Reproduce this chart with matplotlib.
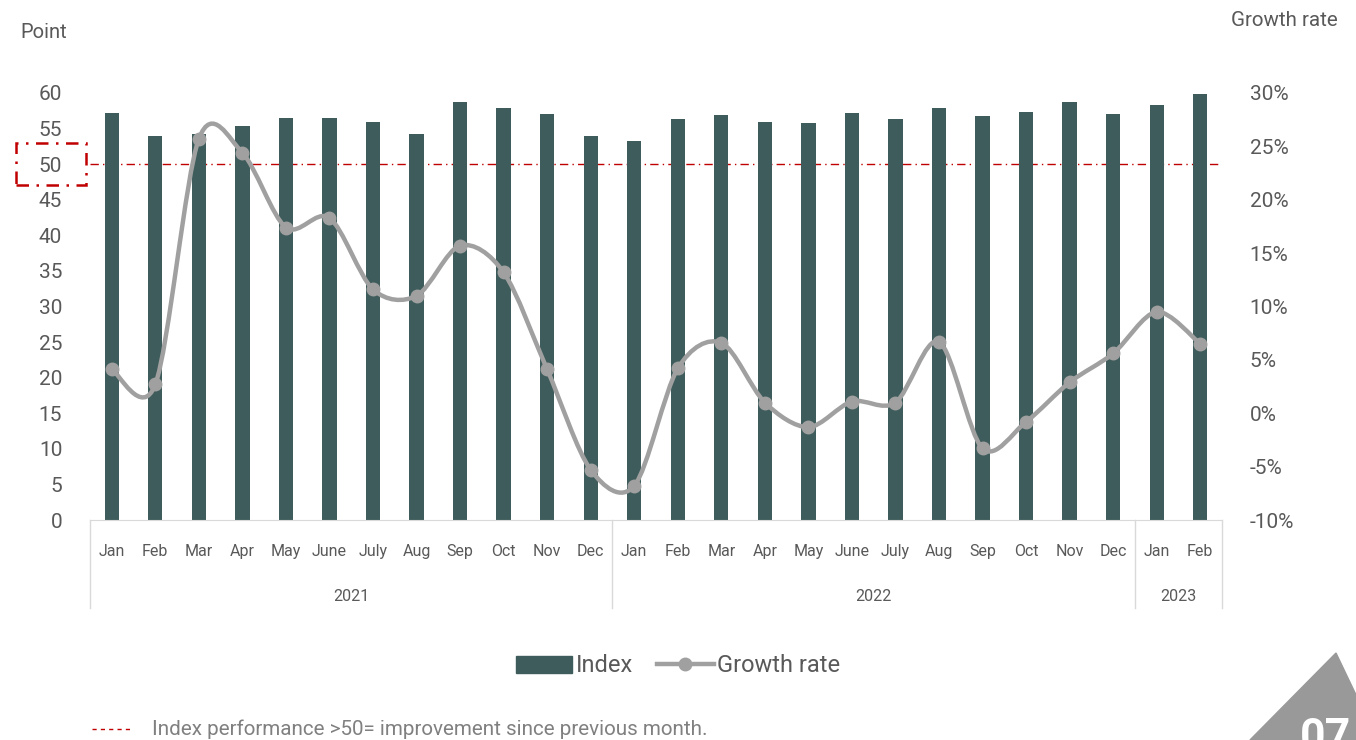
import numpy as np
import matplotlib.pyplot as plt
from matplotlib.path import Path
from matplotlib.patches import PathPatch, Patch, Polygon, Rectangle
from matplotlib.lines import Line2D

plt.rcParams['font.family'] = ['Roboto', 'DejaVu Sans']

months = ['Jan', 'Feb', 'Mar', 'Apr', 'May', 'June', 'July', 'Aug', 'Sep', 'Oct', 'Nov', 'Dec',
          'Jan', 'Feb', 'Mar', 'Apr', 'May', 'June', 'July', 'Aug', 'Sep', 'Oct', 'Nov', 'Dec',
          'Jan', 'Feb']
years = ['2021', '2022', '2023']
year_counts = [12, 12, 2]

index_vals = [57.2, 54.0, 54.2, 55.4, 56.5, 56.5, 55.9, 54.2, 58.7, 57.9, 57.0, 54.0,
              53.3, 56.3, 56.9, 55.9, 55.8, 57.2, 56.3, 57.9, 56.8, 57.3, 58.7, 57.0,
              58.3, 59.9]
growth_vals = [4.1, 2.7, 25.7, 24.4, 17.4, 18.3, 11.6, 11.0, 15.7, 13.2, 4.1, -5.3,
               -6.8, 4.2, 6.6, 1.0, -1.3, 1.1, 1.0, 6.7, -3.3, -0.8, 2.9, 5.6,
               9.5, 6.5]

bar_color = '#3e5c5b'
line_color = '#a0a0a0'
text_color = '#595959'
red = '#c00000'

fig = plt.figure(figsize=(13.56, 7.4), dpi=100)
ax = fig.add_axes([90 / 1356, 1 - 520 / 740, 1132 / 1356, 427 / 740])
ax2 = ax.twinx()

x = np.arange(len(months))
ax.bar(x, index_vals, width=0.33, color=bar_color, zorder=2)
ax.set_xlim(-0.5, len(months) - 0.5)
ax.set_ylim(0, 60)
ax.set_yticks(range(0, 61, 5))
ax.axhline(50, color=red, lw=1, ls=(0, (6, 3, 1, 3)), zorder=1)

ax2.set_ylim(-10, 30)
ax2.set_yticks(range(-10, 31, 5))
ax2.set_yticklabels([f'{v}%' for v in range(-10, 31, 5)])

# smooth line (Catmull-Rom as bezier, in pixel-like space)
sx, sy = 43.54, 10.675
pts = np.column_stack([x * sx, np.array(growth_vals) * sy])
verts = [pts[0]]
codes = [Path.MOVETO]
n = len(pts)
for i in range(n - 1):
    p0 = pts[max(i - 1, 0)]
    p1 = pts[i]
    p2 = pts[i + 1]
    p3 = pts[min(i + 2, n - 1)]
    c1 = p1 + (p2 - p0) / 6.5
    c2 = p2 - (p3 - p1) / 6.5
    verts += [c1, c2, p2]
    codes += [Path.CURVE4] * 3
verts = np.array(verts)
verts[:, 0] /= sx
verts[:, 1] /= sy
ax2.add_patch(PathPatch(Path(verts, codes), fill=False, edgecolor=line_color, lw=3.2,
                        capstyle='round', joinstyle='round', zorder=3))
ax2.plot(x, growth_vals, 'o', color=line_color, ms=9, zorder=4)

for a in (ax, ax2):
    for s in a.spines.values():
        s.set_visible(False)
    a.tick_params(axis='y', length=0, labelsize=15, colors=text_color, pad=20)
ax.spines['bottom'].set_visible(True)
ax.spines['bottom'].set_color('#d9d9d9')
ax.set_xticks(x)
ax.set_xticklabels(months)
ax.tick_params(axis='x', length=0, labelsize=11.5, colors=text_color, pad=17)

# year groups and separators
trans = ax.get_xaxis_transform()
start = -0.5
ax.plot([start, start], [0, -0.205], color='#d9d9d9', lw=1, transform=trans, clip_on=False)
for yr, cnt in zip(years, year_counts):
    end = start + cnt
    ax.plot([end, end], [0, -0.205], color='#d9d9d9', lw=1, transform=trans, clip_on=False)
    ax.text((start + end) / 2, -0.178, yr, transform=trans, ha='center', va='center',
            fontsize=11.5, color=text_color)
    start = end

# dashed box around 50
fig.patches.append(Rectangle((16 / 1356, 1 - 185 / 740), 70 / 1356, 42 / 740,
                             transform=fig.transFigure, fill=False, edgecolor=red, lw=1.8,
                             ls=(0, (5, 3, 1, 3))))

fig.text(20 / 1356, 1 - 32 / 740, 'Point', fontsize=14.5, color=text_color, va='center')
fig.text(1338 / 1356, 1 - 21 / 740, 'Growth rate', fontsize=14.8, color=text_color,
         va='center', ha='right')

handles = [Patch(color=bar_color, label='Index'),
           Line2D([], [], color=line_color, lw=3.2, marker='o', ms=9, label='Growth rate')]
fig.legend(handles=handles, loc='center', bbox_to_anchor=(0.5, 1 - 666 / 740), ncol=2,
           frameon=False, fontsize=17, handlelength=2.4, handletextpad=0.15,
           columnspacing=1.0, labelcolor=text_color)

fig.lines.append(Line2D([92 / 1356, 133 / 1356], [1 - 729 / 740] * 2, transform=fig.transFigure,
                        color=red, lw=1, ls=(0, (3, 3))))
fig.text(152 / 1356, 1 - 729 / 740, 'Index performance >50= improvement since previous month.',
         fontsize=14.9, color='#808080', va='center')

# page corner
fig.patches.append(Polygon([(1336 / 1356, 1 - 653 / 740), (1420 / 1356, 1 - 740 / 740 - 0.12),
                            (1250 / 1356, 1 - 740 / 740)], closed=True,
                           transform=fig.transFigure, color='#999999'))
fig.text(1300 / 1356, -0.025, '07', fontsize=32, fontweight='bold', color='white',
         ha='left', va='bottom')

fig.savefig('out.png', dpi=100)
